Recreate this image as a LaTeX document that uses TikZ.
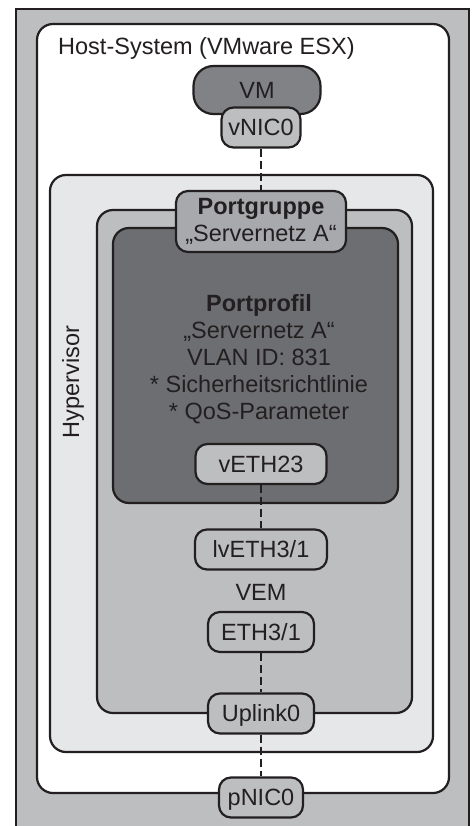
\documentclass[tikz,border=0pt]{standalone}
\usepackage{fontspec}
\setmainfont{Liberation Sans}
\usepackage{xcolor}
\definecolor{lineblack}{HTML}{231F20}
\definecolor{framegray}{HTML}{BCBEC0}
\definecolor{hypergray}{HTML}{E6E7E8}
\definecolor{profilegray}{HTML}{6D6E71}
\definecolor{groupgray}{HTML}{A7A9AC}
\definecolor{vmgray}{HTML}{808285}

\tikzset{
    box/.style={draw=lineblack, line width=2.2pt, rounded corners=16pt},
    port/.style={draw=lineblack, line width=2.2pt, fill=framegray, rounded corners=12pt,
        minimum height=40pt, inner sep=0pt, text height=16.8pt, text depth=0pt},
    caption/.style={text height=16.8pt, text depth=0pt, inner sep=0pt},
    link/.style={draw=lineblack, line width=2.4pt, dash pattern=on 8pt off 4pt},
}

\begin{document}
\begin{tikzpicture}[x=1pt, y=-1pt, font=\fontsize{23.5}{27}\selectfont, text=lineblack]
    \useasboundingbox (0,0) rectangle (474,826);
    % frames
    \fill[framegray] (16,9) rectangle (469,826);
    \draw[lineblack, line width=2.2pt] (16,826) -- (16,9) -- (469,9) -- (469,826);
    \draw[box, fill=white] (37,24) rectangle (449,793);
    \draw[box, fill=hypergray] (50,175) rectangle (433,752);
    \draw[box, fill=framegray] (97,210) rectangle (412,713);
    \draw[box, fill=profilegray] (113,228) rectangle (398,503);

    \node[anchor=base west, inner sep=0pt] (hostlabel) at (58,55) {Host-System (VMware ESX)};
    \node[rotate=90, inner sep=0pt] (hyperlabel) at (73,382) {Hypervisor};
    \node[caption] (vemlabel) at (261,592) {VEM};

    % ports
    \node[port, fill=vmgray, minimum width=127pt, minimum height=48pt, rounded corners=20pt] (vm) at (257,90) {VM};
    \node[port, minimum width=79pt] (vnic) at (261,127.5) {vNIC0};
    \node[draw=lineblack, line width=2.2pt, fill=groupgray, rounded corners=12pt, minimum width=170pt,
        minimum height=61pt, inner sep=0pt, align=center] (gruppe) at (261,221.5)
        {\textbf{Portgruppe}\\„Servernetz A“};
    \node[align=center] (profil) at (259,359)
        {\textbf{Portprofil}\\„Servernetz A“\\VLAN ID: 831\\* Sicherheitsrichtlinie\\* QoS-Parameter};
    \node[port, minimum width=131pt] (veth) at (261,464) {vETH23};
    \node[port, minimum width=132pt] (lveth) at (261,549.5) {lvETH3/1};
    \node[port, minimum width=106pt] (eth) at (261,632) {ETH3/1};
    \node[port, minimum width=106pt] (uplink) at (261,713.5) {Uplink0};
    \node[port, minimum width=84pt] (pnic) at (261,797.5) {pNIC0};

    % links
    \draw[link] (vnic) -- (gruppe);
    \draw[link] (veth) -- (lveth);
    \draw[link] (eth) -- (uplink);
    \draw[link] (uplink) -- (pnic);
\end{tikzpicture}
\end{document}
